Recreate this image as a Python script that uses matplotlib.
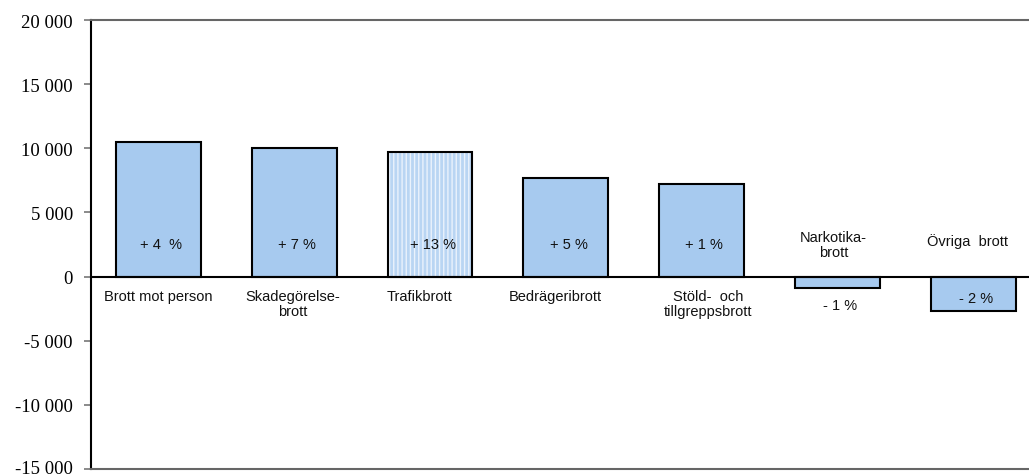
import numpy as np
import matplotlib
matplotlib.use("Agg")
import matplotlib.pyplot as plt
from matplotlib.ticker import FuncFormatter
from matplotlib.transforms import ScaledTranslation

# antal anmälda brott, förändring jämfört med föregående år
categories = ['Brott mot person', 'Skadegörelse-\nbrott', 'Trafikbrott', 'Bedrägeribrott',
              'Stöld-  och\ntillgreppsbrott', 'Narkotika-\nbrott', 'Övriga  brott']
values = [10500, 10000, 9700, 7700, 7200, -900, -2700]
changes = ['+ 4  %', '+ 7 %', '+ 13 %', '+ 5 %', '+ 1 %', '- 1 %', '- 2 %']
yticks = [-15000, -10000, -5000, 0, 5000, 10000, 15000, 20000]

bar_color = '#A7CAEF'
x = np.arange(len(categories))

fig = plt.figure(figsize=(10.29, 4.77), dpi=100)
ax = fig.add_axes([91 / 1029, 7 / 477, 1 - 91 / 1029, 449 / 477])

for i, v in enumerate(values):
    if categories[i] == 'Trafikbrott':
        # mönstrad stapel
        ax.bar(x[i], v, width=0.625, color='#B9D5F3', edgecolor='#EAF2FC',
               hatch='||||', linewidth=0, zorder=2)
        ax.bar(x[i], v, width=0.625, fill=False, edgecolor='black', linewidth=1.5, zorder=3)
    else:
        ax.bar(x[i], v, width=0.625, color=bar_color, edgecolor='black', linewidth=1.5, zorder=3)

ax.axhline(0, color='black', linewidth=1.5, zorder=4)

# kategorietiketter
label_dx = [0, -0.01, -0.08, -0.08, 0.05, -0.03, -0.04]
for i, cat in enumerate(categories):
    if values[i] > 0:
        ax.text(x[i] + label_dx[i], -950, cat, ha='center', va='top', fontsize=10.5,
                family='Liberation Sans', linespacing=1.1, color='#111111')
    elif i == 5:
        ax.text(x[i] + label_dx[i], 2500, cat, ha='center', va='center', fontsize=10.5,
                family='Liberation Sans', linespacing=1.1, color='#111111')
    else:
        ax.text(x[i] + label_dx[i], 2850, cat, ha='center', va='center', fontsize=10.5,
                family='Liberation Sans', color='#111111')

# procentetiketter
for i, c in enumerate(changes):
    if values[i] > 0:
        y = 2550
    elif i == 5:
        y = -2200
    else:
        y = -1700
    ax.text(x[i] + 0.02, y, c, ha='center', va='center', fontsize=10.5,
            family='Liberation Sans', color='#111111', zorder=5)

ax.set_xlim(-0.496, 6.41)
ax.set_ylim(-15000, 20000)
ax.set_yticks(yticks)
ax.yaxis.set_major_formatter(FuncFormatter(lambda v, p: f"{int(v):,}".replace(',', ' ')))
ax.set_xticks([])
ax.tick_params(axis='y', length=5, width=1.2, color='#777777', pad=8)
fig.canvas.draw()
for lab in ax.get_yticklabels():
    lab.set_family('Liberation Serif')
    lab.set_fontsize(13.5)
# lyft nedersta etiketten så att den syns helt
low = ax.get_yticklabels()[0]
low.set_transform(low.get_transform() + ScaledTranslation(0, 3 / 100, fig.dpi_scale_trans))

ax.spines['right'].set_visible(False)
ax.spines['left'].set_color('black')
ax.spines['left'].set_linewidth(1.5)
for s in ['top', 'bottom']:
    ax.spines[s].set_color('#666666')
    ax.spines[s].set_linewidth(1.5)

fig.savefig('out.png', dpi=100)
